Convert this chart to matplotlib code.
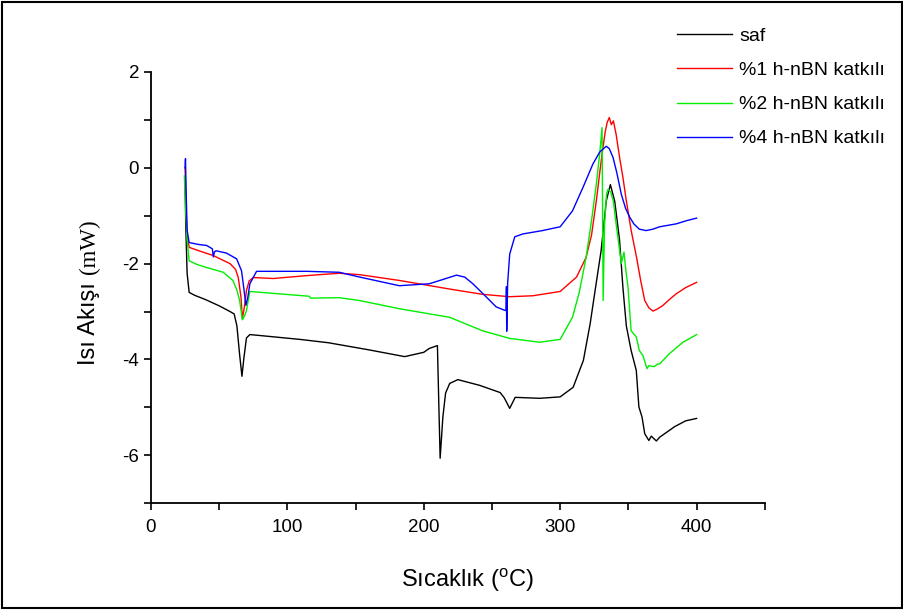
import matplotlib.pyplot as plt
from matplotlib.patches import Rectangle
from matplotlib.ticker import MultipleLocator

plt.rcParams['font.family'] = ['Liberation Sans', 'DejaVu Sans']
plt.rcParams['mathtext.fontset'] = 'custom'
plt.rcParams['mathtext.rm'] = 'Liberation Sans'
plt.rcParams['axes.unicode_minus'] = False

# saf
saf_x = [25, 25.5, 26.5, 28, 32, 40, 50, 58, 61, 63, 65, 66.7, 68, 70, 72.5, 80, 109, 130,
         160, 186, 200, 204, 210, 211, 212, 214, 216, 219, 225, 241, 256, 259, 263, 267,
         285, 300, 309.5, 317, 322, 324.5, 330, 333.8, 336.8, 340, 343.5, 346, 348.5,
         352, 355.8, 357.7, 360, 362, 365, 366.8, 370.5, 373, 380, 384, 392, 400]
saf_y = [-0.2, -1.2, -2.2, -2.6, -2.66, -2.75, -2.88, -3.0, -3.05, -3.3, -3.9, -4.35, -4.0,
         -3.55, -3.48, -3.5, -3.58, -3.65, -3.8, -3.94, -3.85, -3.77, -3.71, -4.9, -6.06,
         -5.2, -4.7, -4.5, -4.42, -4.54, -4.69, -4.8, -5.02, -4.79, -4.81, -4.78, -4.58,
         -4.02, -3.25, -2.77, -1.73, -0.69, -0.35, -0.7, -1.5, -2.5, -3.3, -3.81, -4.23,
         -4.99, -5.2, -5.55, -5.69, -5.6, -5.7, -5.62, -5.48, -5.4, -5.28, -5.23]

# %1 h-nBN
k1_x = [25, 25.5, 26.5, 28, 35, 45.6, 58, 62, 64, 66, 67, 68.5, 70, 72, 75, 89.6, 114,
        138, 153, 182, 219, 243, 263, 280, 300, 312, 319, 323, 326.5, 329, 331, 333,
        334.5, 336, 337.5, 339, 341, 343.6, 346, 348.5, 352, 356, 359, 362, 365, 368,
        371, 375, 380, 385, 392, 400]
k1_y = [0.0, -0.7, -1.4, -1.66, -1.73, -1.83, -2.0, -2.12, -2.29, -2.7, -3.15, -2.9,
        -2.56, -2.36, -2.29, -2.31, -2.25, -2.2, -2.23, -2.35, -2.53, -2.64, -2.69, -2.67,
        -2.58, -2.28, -1.87, -1.4, -0.69, -0.1, 0.35, 0.75, 0.95, 1.05, 0.9, 0.98, 0.7,
        0.21, -0.2, -0.69, -1.3, -1.87, -2.35, -2.77, -2.92, -2.99, -2.95, -2.88, -2.75,
        -2.63, -2.5, -2.39]

# %2 h-nBN
k2_x = [24.5, 25, 26.5, 28, 34, 40.8, 53, 60, 63, 65, 67, 68.5, 70, 72.5, 89.6, 116,
        117, 138, 153, 182, 219, 243, 263, 285, 300, 309, 314, 319, 323, 326.5, 329,
        330.7, 331.1, 331.5, 332.5, 334, 335, 337, 339, 341, 343, 344.8, 346.8, 348,
        349.7, 352, 355.8, 358, 360.7, 363.6, 365, 369, 371, 373, 380, 390, 400]
k2_y = [-0.17, -0.6, -1.5, -1.94, -2.02, -2.08, -2.18, -2.35, -2.55, -2.77, -3.17,
        -3.1, -2.98, -2.58, -2.62, -2.68, -2.72, -2.71, -2.77, -2.94, -3.12, -3.4, -3.56,
        -3.64, -3.58, -3.12, -2.6, -1.87, -1.1, -0.34, 0.3, 0.84, -1.0, -2.77, -1.2,
        -0.55, -0.45, -0.5, -0.7, -1.17, -1.6, -2.0, -1.76, -2.1, -2.49, -3.4, -3.53,
        -3.81, -3.92, -4.19, -4.13, -4.15, -4.1, -4.09, -3.88, -3.64, -3.48]

# %4 h-nBN
k4_x = [25, 25.3, 25.8, 26.5, 28, 35, 40.8, 45, 45.7, 46.5, 47.6, 55.4, 62.8, 66.4,
        68, 69.6, 71, 72.5, 77.4, 90, 114, 138, 153, 182, 204, 214, 224, 230, 236, 246,
        253, 259, 260.3, 260.6, 260.8, 261.5, 263, 266.7, 272.6, 287, 300, 309, 316.7,
        324, 329, 333.8, 336, 338.7, 341.5, 344.8, 348, 351, 354, 358, 363, 368, 373,
        385, 393, 400]
k4_y = [0.0, 0.19, -0.5, -1.3, -1.56, -1.6, -1.62, -1.69, -1.86, -1.76, -1.73, -1.78,
        -1.9, -2.15, -2.5, -2.87, -2.7, -2.42, -2.16, -2.16, -2.16, -2.18, -2.28, -2.46,
        -2.42, -2.33, -2.24, -2.28, -2.42, -2.7, -2.9, -2.97, -2.98, -2.48, -3.41, -2.4,
        -1.8, -1.44, -1.38, -1.31, -1.23, -0.9, -0.41, 0.08, 0.33, 0.45, 0.4, 0.22,
        -0.1, -0.55, -0.85, -1.03, -1.17, -1.28, -1.31, -1.28, -1.23, -1.17, -1.1, -1.05]

labels = ['saf', '%1 h-nBN katkılı', '%2 h-nBN katkılı', '%4 h-nBN katkılı']
colors = ['black', '#ff0000', '#00ee00', '#0000ff']

fig = plt.figure(figsize=(9.04, 6.10), dpi=100)
ax = fig.add_axes([0.167, 0.175, 0.679, 0.707])

for xs, ys, lab, c in zip([saf_x, k1_x, k2_x, k4_x], [saf_y, k1_y, k2_y, k4_y], labels, colors):
    ax.plot(xs, ys, color=c, lw=1.0, label=lab)

ax.set_xlim(0, 450)
ax.set_ylim(-7, 2)
ax.xaxis.set_major_locator(MultipleLocator(100))
ax.xaxis.set_minor_locator(MultipleLocator(50))
ax.yaxis.set_major_locator(MultipleLocator(2))
ax.yaxis.set_minor_locator(MultipleLocator(1))
ax.tick_params(which='both', direction='out', length=5, width=1.2, labelsize=13.5)
ax.tick_params(axis='x', pad=6)
ax.spines['top'].set_visible(False)
ax.spines['right'].set_visible(False)
ax.spines['left'].set_linewidth(1.3)
ax.spines['bottom'].set_linewidth(1.3)

ax.set_xlabel('Sıcaklık ($^{\\mathrm{o}}$C)', fontsize=17, va='baseline')
ax.xaxis.set_label_coords(0.516, -0.195)

# y label: sans part and serif unit, as in the original
fig.text(0.105, 0.402, 'Isı Akışı', fontsize=17, rotation=90,
         rotation_mode='anchor', ha='left', va='baseline')
fig.text(0.105, 0.551, '(mW)', fontsize=16.5, rotation=90, family='Liberation Serif',
         rotation_mode='anchor', ha='left', va='baseline')

leg = ax.legend(loc='upper left', bbox_to_anchor=(0.749, 0.955), bbox_transform=fig.transFigure,
                frameon=False, borderpad=0, borderaxespad=0, fontsize=14,
                handlelength=2.8, labelspacing=0.85, handletextpad=0.38)
for line in leg.get_lines():
    line.set_linewidth(1.0)

fig.patches.append(Rectangle((0.002, 0.004), 0.996, 0.993, transform=fig.transFigure,
                             fill=False, edgecolor='black', lw=1.5))

fig.savefig('out.png', dpi=100)
